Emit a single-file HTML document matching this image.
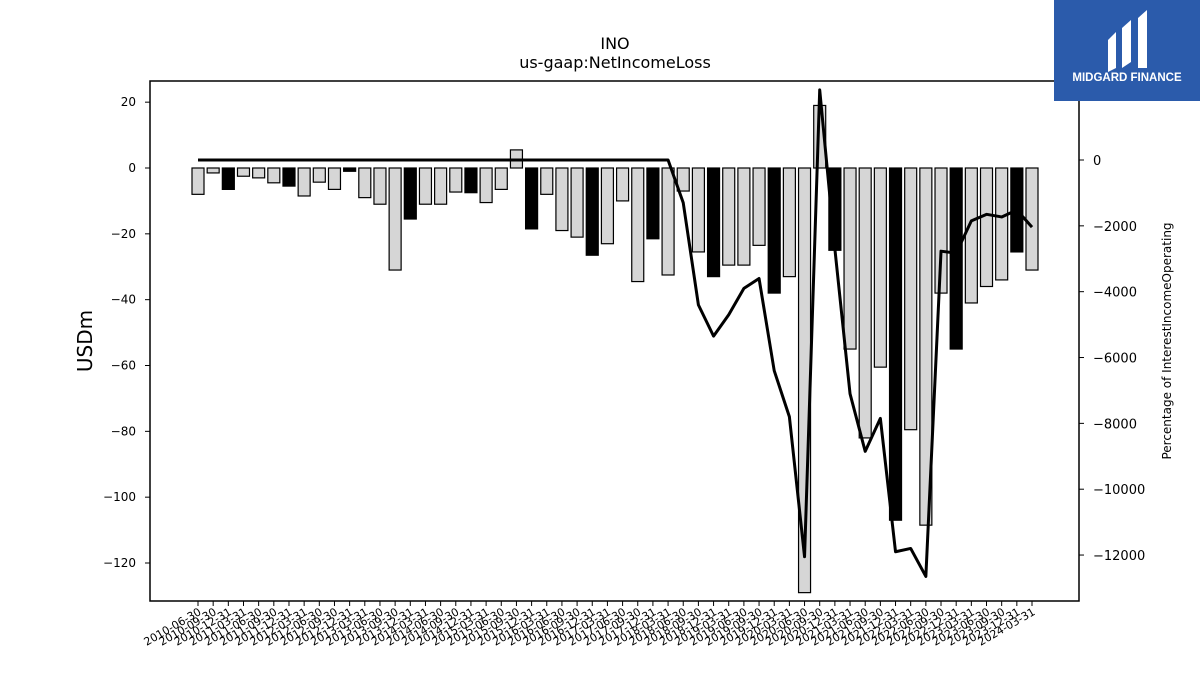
<!DOCTYPE html>
<html><head><meta charset="utf-8"><style>
body{margin:0;background:#fff;font-family:"Liberation Sans","DejaVu Sans",sans-serif}
</style></head><body>
<svg id="chart" width="1200" height="675" xmlns="http://www.w3.org/2000/svg" font-family="DejaVu Sans, Liberation Sans, sans-serif">
<text x="615" y="49" text-anchor="middle" font-size="16">INO</text>
<text x="615" y="68" text-anchor="middle" font-size="16">us-gaap:NetIncomeLoss</text>
<text transform="translate(92,341) rotate(-90)" text-anchor="middle" font-size="20">USDm</text>
<text transform="translate(1171,341) rotate(-90)" text-anchor="middle" font-size="12">Percentage of InterestIncomeOperating</text>
<g id="bars"></g>
<g id="line"></g>
<g id="axes"></g>
<rect x="150" y="81" width="929" height="520" fill="none" stroke="#000" stroke-width="1.5"/>
<g>
<rect x="1054" y="0" width="146" height="101" fill="#2b5bab"/>
<path d="M1108 40 L1116 32 L1116 68 L1108 72 Z M1122 28 L1131 20 L1131 62 L1122 68 Z M1138 18 L1147 10 L1147 68 L1138 68 Z" fill="#fff"/>
<text x="1127" y="81" text-anchor="middle" font-size="11.5" font-weight="bold" fill="#fff" font-family="Liberation Sans, sans-serif">MIDGARD FINANCE</text>
</g>
</svg>
<script>
const categories=[];
(function(){const e=["03-31","06-30","09-30","12-31"];for(let y=2010;y<=2024;y++)for(let q=0;q<4;q++){const s=y+"-"+e[q];if(s>="2010-06-30"&&s<="2024-03-31")categories.push(s);}})();
const netIncome=[-8,-1.5,-6.5,-2.5,-3,-4.5,-5.5,-8.5,-4.3,-6.5,-1,-9,-11,-31,-15.5,-11,-11,-7.3,-7.5,-10.5,-6.5,5.5,-18.5,-8,-19,-21,-26.5,-23,-10,-34.5,-21.5,-32.5,-7,-25.5,-33,-29.5,-29.5,-23.5,-38,-33,-129,19,-25,-55,-82,-60.5,-107,-79.5,-108.5,-38,-55,-41,-36,-34,-25.5,-31];
const pctInterest=[0,0,0,0,0,0,0,0,0,0,0,0,0,0,0,0,0,0,0,0,0,0,0,0,0,0,0,0,0,0,0,0,-1300,-4400,-5350,-4700,-3900,-3600,-6400,-7800,-12050,2130,-2700,-7100,-8850,-7850,-11900,-11800,-12650,-2770,-2830,-1850,-1650,-1730,-1520,-2040];
const leftTicks=[20,0,-20,-40,-60,-80,-100,-120];
const rightTicks=[0,-2000,-4000,-6000,-8000,-10000,-12000];
const NS="http://www.w3.org/2000/svg";
const xPos=i=>198+i*(1032-198)/(categories.length-1);
const yL=v=>168-v*3.2917;
const yR=v=>160-v*0.03292;
function mk(t,a,p){const e=document.createElementNS(NS,t);for(const k in a)e.setAttribute(k,a[k]);p.appendChild(e);return e;}
const bars=document.getElementById('bars'),axes=document.getElementById('axes'),line=document.getElementById('line');
netIncome.forEach((v,i)=>{const y0=yL(0),y1=yL(v);const dark=(i%4)===2;
const r=mk('rect',{x:xPos(i)-6,y:Math.min(y0,y1),width:12,height:Math.abs(y1-y0),fill:dark?'#000':'#d6d6d6',stroke:'#000','stroke-width':1.2},bars);

});
const pl=mk('polyline',{points:pctInterest.map((v,i)=>xPos(i)+','+yR(v)).join(' '),fill:'none',stroke:'#000','stroke-width':3,'stroke-linejoin':'round'},line);


leftTicks.forEach(v=>{const y=yL(v);mk('line',{x1:145,x2:150,y1:y,y2:y,stroke:'#000'},axes);
const t=mk('text',{x:136,y:y+4,'text-anchor':'end','font-size':12},axes);t.textContent=(v<0?'\u2212':'')+Math.abs(v);

});
rightTicks.forEach(v=>{const y=yR(v);mk('line',{x1:1079,x2:1084,y1:y,y2:y,stroke:'#000'},axes);
const t=mk('text',{x:1093,y:y+5,'font-size':13},axes);t.textContent=(v<0?'\u2212':'')+Math.abs(v);

});
categories.forEach((c,i)=>{const x=xPos(i);mk('line',{x1:x,x2:x,y1:601,y2:606,stroke:'#000'},axes);
const t=mk('text',{transform:'translate('+(x+4)+',614) rotate(-30)','text-anchor':'end','font-size':11},axes);t.textContent=c;

});
</script>
</body></html>
